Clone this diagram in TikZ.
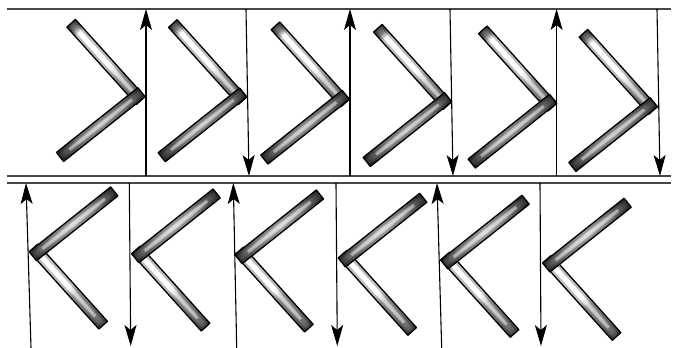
\documentclass[tikz,border=0pt]{standalone}
\usetikzlibrary{arrows.meta}
% lengthwise profiles: 25bp = tip (vertex), 75bp = free end
\pgfdeclarehorizontalshading{shA}{100bp}{color(0bp)=(black!62); color(25bp)=(black!62); color(30bp)=(black!45); color(40bp)=(black!30); color(48bp)=(white); color(69bp)=(white); color(72bp)=(black!50); color(75bp)=(black!72); color(100bp)=(black!72)}
\pgfdeclarehorizontalshading{shB}{100bp}{color(0bp)=(black!80); color(25bp)=(black!80); color(30bp)=(black!62); color(36bp)=(black!48); color(50bp)=(black!32); color(62bp)=(black!42); color(70bp)=(black!65); color(75bp)=(black!82); color(100bp)=(black!82)}
\pgfdeclarehorizontalshading{shC}{100bp}{color(0bp)=(black!80); color(25bp)=(black!80); color(30bp)=(black!60); color(38bp)=(black!38); color(50bp)=(black!22); color(62bp)=(black!38); color(70bp)=(black!65); color(75bp)=(black!82); color(100bp)=(black!82)}
\pgfdeclarehorizontalshading{shD}{100bp}{color(0bp)=(black!15); color(25bp)=(black!15); color(30bp)=(white); color(50bp)=(white); color(55bp)=(black!30); color(65bp)=(black!45); color(72bp)=(black!60); color(75bp)=(black!78); color(100bp)=(black!78)}
\tikzset{
  rule/.style={line width=1.6pt, draw=black!72},
  arr/.style={line width=1.1pt, -{Stealth[length=21pt,width=12pt,inset=5pt]}},
  armline/.style={line width=1.3pt, line join=round}
}
% #1 tip point, #2 angle, #3 side (1/-1), #4 shading
\newcommand\chevarm[4]{%
  \begin{scope}[transform canvas={shift={#1},rotate=#2}]
    \shade[shading=#4] (0,0) rectangle (104,#3*11.5);
    \fill[black,fill opacity=.25] (0,0) rectangle (104,#3*3) (0,#3*8.5) rectangle (104,#3*11.5);
    \fill[white,fill opacity=.45] (12,#3*4.3) rectangle (92,#3*7.2);
    \draw[armline] (0,0) rectangle (104,#3*11.5);
  \end{scope}}
\newcommand\topchev[1]{\chevarm{#1}{132}{1}{shA}\chevarm{#1}{218.5}{-1}{shB}}
\newcommand\botchev[1]{\chevarm{#1}{312}{1}{shD}\chevarm{#1}{38.5}{-1}{shC}}
\begin{document}
\begin{tikzpicture}[x=1pt,y=1pt]
\useasboundingbox (0,0) rectangle (675,348);
\fill[white] (0,0) rectangle (675,348);
% rules
\coordinate (r1a) at (7,339); \coordinate (r1b) at (671,339);
\coordinate (r2a) at (7,172); \coordinate (r2b) at (671,172);
\coordinate (r3a) at (7,165); \coordinate (r3b) at (671,165);
\draw[rule] (r1a) -- (r1b);
\draw[rule] (r2a) -- (r2b);
\draw[rule] (r3a) -- (r3b);
% top row chevrons
\topchev{(145,251.3)}
\topchev{(246.7,251)}
\topchev{(349.3,248.7)}
\topchev{(451.7,246.3)}
\topchev{(556.7,244.7)}
\topchev{(657.3,241.3)}
% bottom row chevrons
\botchev{(29.3,96.3)}
\botchev{(131.7,94.3)}
\botchev{(235,93.3)}
\botchev{(338.3,90)}
\botchev{(440.7,88)}
\botchev{(542.7,85)}
% top row arrows
\coordinate (t0s) at (146,172);   \coordinate (t0e) at (146,339);
\coordinate (t1s) at (246,339);   \coordinate (t1e) at (249,172);
\coordinate (t2s) at (350,172);   \coordinate (t2e) at (350,339);
\coordinate (t3s) at (450,339);   \coordinate (t3e) at (453,172);
\coordinate (t4s) at (556.6,172); \coordinate (t4e) at (556.6,339);
\coordinate (t5s) at (657,339);   \coordinate (t5e) at (660,172);
\foreach \i in {0,...,5} \draw[arr] (t\i s) -- (t\i e);
% bottom row arrows
\coordinate (b0s) at (31,0);      \coordinate (b0e) at (26,165);
\coordinate (b1s) at (129.3,165); \coordinate (b1e) at (130.7,2);
\coordinate (b2s) at (236.7,0);   \coordinate (b2e) at (233.3,165);
\coordinate (b3s) at (336,165);   \coordinate (b3e) at (337.3,2);
\coordinate (b4s) at (441.7,0);   \coordinate (b4e) at (437,165);
\coordinate (b5s) at (540,165);   \coordinate (b5e) at (541,2);
\foreach \i in {0,...,5} \draw[arr] (b\i s) -- (b\i e);
\end{tikzpicture}
\end{document}
